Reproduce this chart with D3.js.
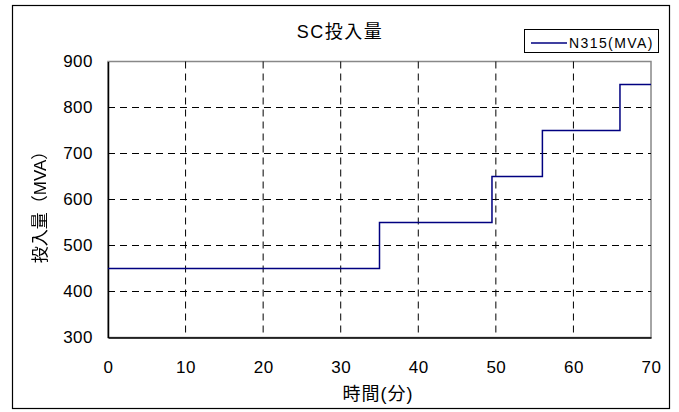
<!DOCTYPE html>
<html>
<head>
<meta charset="utf-8">
<script src="https://cdn.jsdelivr.net/npm/d3@7"></script>
<style>
  body { margin: 0; background: #fff; }
  text { font-family: Arial, "Liberation Sans", "Noto Sans CJK JP", sans-serif; fill: #000; }
</style>
</head>
<body>
<div id="chart"></div>
<script>
// Data
var times = [0, 35, 49.5, 56, 66, 70];
var values = [450, 550, 650, 750, 850, 850];
var xTicks = [0, 10, 20, 30, 40, 50, 60, 70];
var yTicks = [300, 400, 500, 600, 700, 800, 900];
var seriesName = "N315(MVA)";

var svgWidth = 679;
var svgHeight = 412;

var margin = { top: 61.5, right: 28, bottom: 74.5, left: 108 };
var width = svgWidth - margin.left - margin.right;
var height = svgHeight - margin.top - margin.bottom;

var svg = d3.select("#chart")
  .append("svg")
  .attr("width", svgWidth)
  .attr("height", svgHeight);

// filter to keep rotated text grey-scale
svg.append("defs").append("filter")
  .attr("id", "grey")
  .append("feColorMatrix")
  .attr("type", "saturate")
  .attr("values", 0);

// outer frame
svg.append("rect")
  .attr("x", 12.5).attr("y", 5.5)
  .attr("width", 657).attr("height", 403)
  .attr("fill", "none").attr("stroke", "#000").attr("stroke-width", 1.2);

var chartGroup = svg.append("g")
  .attr("transform", `translate(${margin.left}, ${margin.top})`);

var xScale = d3.scaleLinear().domain([0, 70]).range([0, width]);
var yScale = d3.scaleLinear().domain([300, 900]).range([height, 0]);

// plot border (top/right gray)
chartGroup.append("rect")
  .attr("width", width).attr("height", height)
  .attr("fill", "none").attr("stroke", "#888").attr("stroke-width", 1.5);

// grid
chartGroup.append("g")
  .selectAll("line")
  .data(xTicks.slice(1, -1))
  .enter()
  .append("line")
  .attr("x1", d => xScale(d)).attr("x2", d => xScale(d))
  .attr("y1", 0).attr("y2", height)
  .attr("stroke", "#000").attr("stroke-dasharray", "7,5");

chartGroup.append("g")
  .selectAll("line")
  .data(yTicks.slice(1, -1))
  .enter()
  .append("line")
  .attr("y1", d => yScale(d)).attr("y2", d => yScale(d))
  .attr("x1", 0).attr("x2", width)
  .attr("stroke", "#000").attr("stroke-dasharray", "7,5");

// axes
var bottomAxis = d3.axisBottom(xScale).tickValues(xTicks).tickSize(0).tickPadding(23);
var leftAxis = d3.axisLeft(yScale).tickValues(yTicks).tickSize(0).tickPadding(15);

var xAxisG = chartGroup.append("g").attr("transform", `translate(0, ${height})`).call(bottomAxis);
var yAxisG = chartGroup.append("g").call(leftAxis);

[xAxisG, yAxisG].forEach(function(g) {
  g.select(".domain").attr("stroke", "#000").attr("stroke-width", 1.5);
  g.selectAll("text")
    .attr("font-size", 17)
    .attr("letter-spacing", 0.5)
    .attr("font-family", "Arial, 'Liberation Sans', sans-serif");
});

// series
var lineData = times.map((t, i) => ({ t: t, v: values[i] }));
var line = d3.line()
  .x(d => xScale(d.t))
  .y(d => yScale(d.v))
  .curve(d3.curveStepAfter);

chartGroup.append("path")
  .datum(lineData)
  .attr("d", line)
  .attr("fill", "none")
  .attr("stroke", "#000080")
  .attr("stroke-width", 1.5);

// title
svg.append("text")
  .attr("x", 340).attr("y", 38)
  .attr("text-anchor", "middle")
  .attr("font-size", 18)
  .attr("letter-spacing", 1.5)
  .text("SC投入量");

// axis titles
svg.append("text")
  .attr("x", 378).attr("y", 400)
  .attr("text-anchor", "middle")
  .attr("font-size", 18)
  .attr("letter-spacing", 1)
  .text("時間(分)");

svg.append("g")
  .attr("filter", "url(#grey)")
  .append("text")
  .attr("transform", "translate(46, 203) rotate(-90)")
  .attr("text-anchor", "middle")
  .attr("font-size", 17)
  .text("投入量（MVA）");

// legend
var legend = svg.append("g");
legend.append("rect")
  .attr("x", 524.5).attr("y", 29.5)
  .attr("width", 134).attr("height", 23)
  .attr("fill", "#fff").attr("stroke", "#000");
legend.append("line")
  .attr("x1", 531).attr("x2", 567)
  .attr("y1", 43).attr("y2", 43)
  .attr("stroke", "#000080").attr("stroke-width", 1.5);
legend.append("text")
  .attr("x", 569).attr("y", 48)
  .attr("font-size", 14)
  .attr("letter-spacing", 1.4)
  .text(seriesName);
</script>
</body>
</html>
